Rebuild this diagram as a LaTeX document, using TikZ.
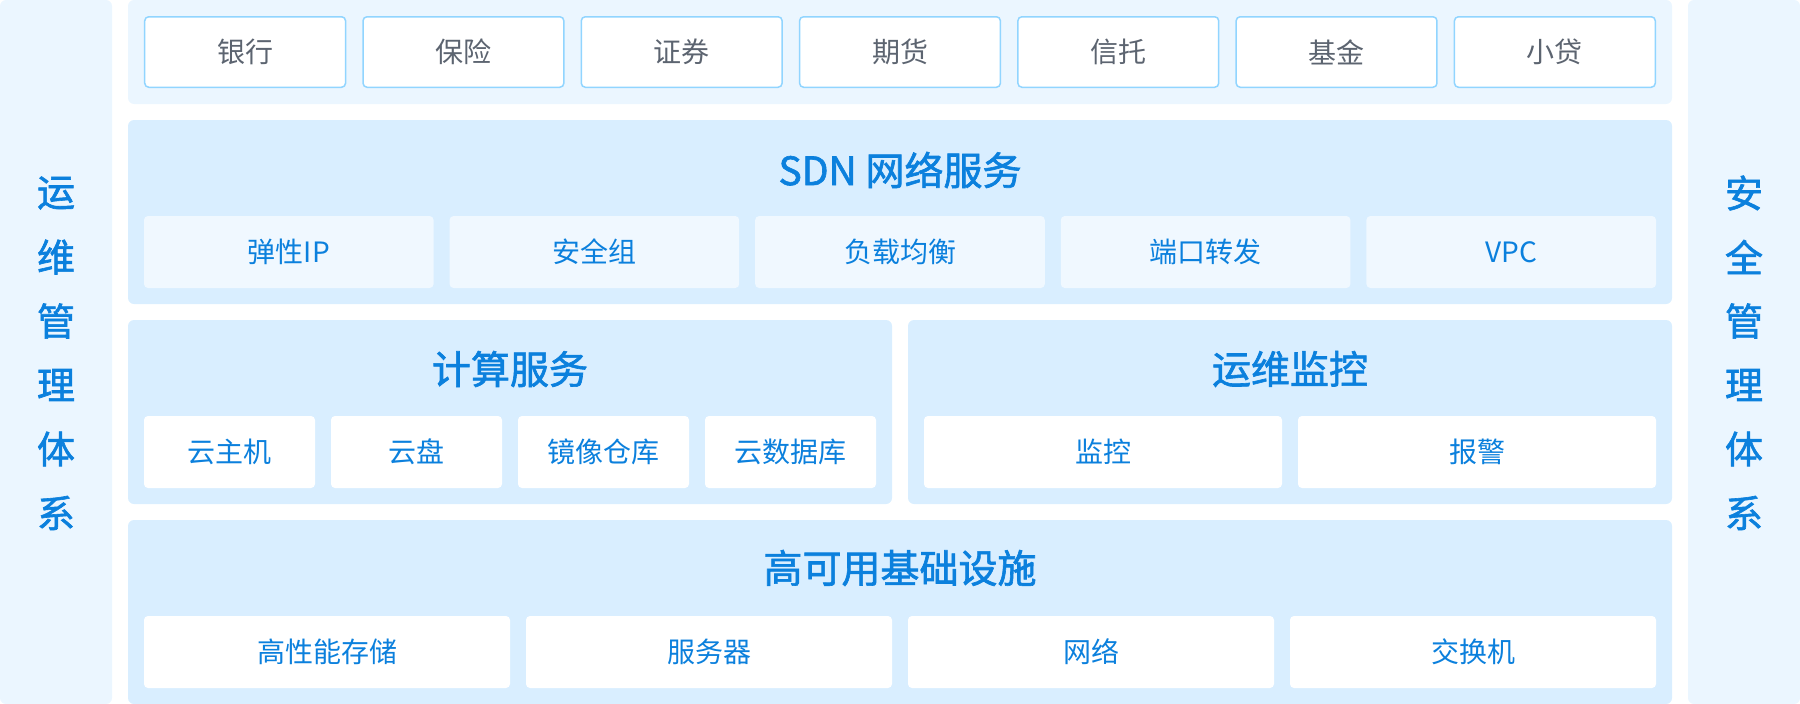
\documentclass[tikz,border=0pt]{standalone}
\usepackage{fontspec}
\setmainfont{Noto Sans CJK SC}
\newfontfamily\medfont{Noto Sans CJK SC}[FakeBold=1.6]
\definecolor{sidebg}{HTML}{EBF6FF}
\definecolor{bandbg}{HTML}{D9EEFF}
\definecolor{sdnbox}{HTML}{F0F8FF}
\definecolor{topline}{HTML}{91D5FF}
\definecolor{bluetxt}{HTML}{0B80DD}
\definecolor{graytxt}{HTML}{5C6470}
\tikzset{
  panel/.style={fill=sidebg, draw=none, rounded corners=6pt, inner sep=0pt},
  band/.style={fill=bandbg, draw=none, rounded corners=6pt, inner sep=0pt},
  topbox/.style={fill=white, draw=topline, line width=1.5pt, rounded corners=4pt, inner sep=0pt,
    minimum width=200.8pt, minimum height=70.5pt, text=graytxt, font=\fontsize{28}{30}\selectfont},
  sdnitem/.style={fill=sdnbox, draw=none, rounded corners=4pt, inner sep=0pt,
    minimum width=289.6pt, minimum height=72pt, text=bluetxt, font=\fontsize{28}{30}\selectfont},
  subitem/.style={fill=white, draw=none, rounded corners=4pt, inner sep=0pt,
    minimum height=72pt, text=bluetxt, font=\fontsize{28}{30}\selectfont},
  title/.style={text=bluetxt, font=\medfont\fontsize{39}{41}\selectfont, inner sep=0pt},
  sidechar/.style={text=bluetxt, font=\medfont\fontsize{38}{40}\selectfont, inner sep=0pt}
}
\begin{document}
\begin{tikzpicture}[x=1pt,y=-1pt]
\useasboundingbox (0,0) rectangle (1800,704);
% side panels
\node[panel, minimum width=112pt, minimum height=704pt] (leftpanel) at (56,352) {};
\node[panel, minimum width=112pt, minimum height=704pt] (rightpanel) at (1744,352) {};
% bands
\node[panel, minimum width=1544pt, minimum height=104pt] (topband) at (900,52) {};
\node[band, minimum width=1544pt, minimum height=184pt] (sdnband) at (900,212) {};
\node[band, minimum width=764pt, minimum height=184pt] (compband) at (510,412) {};
\node[band, minimum width=764pt, minimum height=184pt] (monband) at (1290,412) {};
\node[band, minimum width=1544pt, minimum height=184pt] (baseband) at (900,612) {};
% top boxes
\node[topbox] (t1) at (245.14,52) {银行};
\node[topbox] (t2) at (463.43,52) {保险};
\node[topbox] (t3) at (681.71,52) {证券};
\node[topbox] (t4) at (900,52) {期货};
\node[topbox] (t5) at (1118.29,52) {信托};
\node[topbox] (t6) at (1336.57,52) {基金};
\node[topbox] (t7) at (1554.86,52) {小贷};
% SDN
\node[title] (sdntitle) at (900,170) {SDN 网络服务};
\node[sdnitem] (s1) at (288.8,252) {弹性IP};
\node[sdnitem] (s2) at (594.4,252) {安全组};
\node[sdnitem] (s3) at (900,252) {负载均衡};
\node[sdnitem] (s4) at (1205.6,252) {端口转发};
\node[sdnitem] (s5) at (1511.2,252) {VPC};
% compute
\node[title] (comptitle) at (510,369) {计算服务};
\node[subitem, minimum width=171pt] (c1) at (229.5,452) {云主机};
\node[subitem, minimum width=171pt] (c2) at (416.5,452) {云盘};
\node[subitem, minimum width=171pt] (c3) at (603.5,452) {镜像仓库};
\node[subitem, minimum width=171pt] (c4) at (790.5,452) {云数据库};
% monitor
\node[title] (montitle) at (1290,369) {运维监控};
\node[subitem, minimum width=358pt] (m1) at (1103,452) {监控};
\node[subitem, minimum width=358pt] (m2) at (1477,452) {报警};
% base
\node[title] (basetitle) at (900,568) {高可用基础设施};
\node[subitem, minimum width=366pt] (b1) at (327,652) {高性能存储};
\node[subitem, minimum width=366pt] (b2) at (709,652) {服务器};
\node[subitem, minimum width=366pt] (b3) at (1091,652) {网络};
\node[subitem, minimum width=366pt] (b4) at (1473,652) {交换机};
% side texts
\node[sidechar] (l1) at (56,193) {运};
\node[sidechar] (l2) at (56,257) {维};
\node[sidechar] (l3) at (56,321) {管};
\node[sidechar] (l4) at (56,385) {理};
\node[sidechar] (l5) at (56,449) {体};
\node[sidechar] (l6) at (56,513) {系};
\node[sidechar] (r1) at (1744,193) {安};
\node[sidechar] (r2) at (1744,257) {全};
\node[sidechar] (r3) at (1744,321) {管};
\node[sidechar] (r4) at (1744,385) {理};
\node[sidechar] (r5) at (1744,449) {体};
\node[sidechar] (r6) at (1744,513) {系};
\end{tikzpicture}
\end{document}
